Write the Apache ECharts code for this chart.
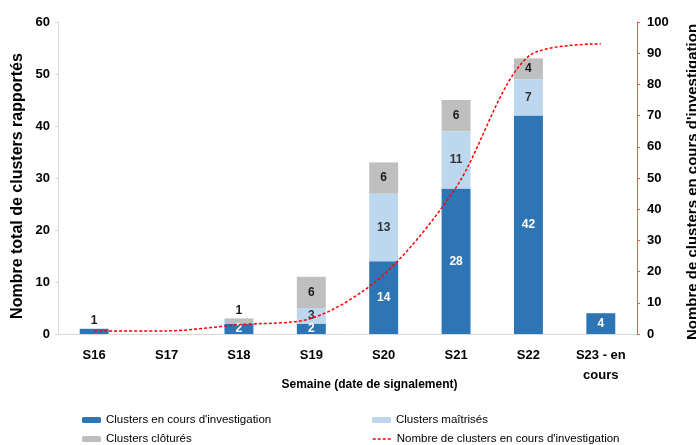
<!DOCTYPE html>
<html>
<head>
<meta charset="utf-8">
<script src="https://cdn.jsdelivr.net/npm/echarts@6/dist/echarts.min.js"></script>
<style>html,body{margin:0;padding:0;background:#fff;}#c{width:696px;height:445px;}</style>
</head>
<body>
<div id="c"></div>
<script>
const categories = ['S16', 'S17', 'S18', 'S19', 'S20', 'S21', 'S22', 'S23 - en\ncours'];
const enCours = [1, null, 2, 2, 14, 28, 42, 4];
const maitrises = [null, null, null, 3, 13, 11, 7, null];
const clotures = [null, null, 1, 6, 6, 6, 4, null];
const cumulEnCours = [1, 1, 3, 5, 19, 47, 89, 93];
const leftTicks = [0, 60, 10];
const rightTicks = [0, 100, 10];

const FONT = "'Liberation Sans Narrow', 'Arial Narrow', 'Liberation Sans', Arial, sans-serif";
const names = ["Clusters en cours d'investigation", "Clusters maîtrisés", "Clusters clôturés", "Nombre de clusters en cours d'investigation"];

const chart = echarts.init(document.getElementById('c'), null, {renderer: 'canvas'});

const blueData = enCours.map((v, i) => (i === 0 ? {value: v, label: {position: 'top', color: '#1a1a1a', distance: 2}} : v));
const grayData = clotures.map((v, i) => (i === 2 ? {value: v, label: {position: 'top', color: '#1a1a1a', distance: 2}} : v));

const labelBase = {show: true, fontFamily: FONT, fontSize: 12, fontWeight: 'bold'};
const legendText = {fontFamily: FONT, fontSize: 11.5, color: '#000'};
const legendCommon = {itemWidth: 19, itemHeight: 6, itemGap: 2, textStyle: legendText, selectedMode: false, padding: 0};

chart.setOption({
  animation: false,
  textStyle: {fontFamily: FONT},
  grid: {left: 58, right: 59, top: 22, bottom: 111, containLabel: false, outerBoundsMode: 'none'},
  legend: [
    Object.assign({data: [names[0]], left: 82, top: 414}, legendCommon),
    Object.assign({data: [names[1]], left: 372, top: 414}, legendCommon),
    Object.assign({data: [names[2]], left: 82, top: 433}, legendCommon),
    Object.assign({data: [names[3]], left: 372, top: 433,
      itemStyle: {color: 'rgba(0,0,0,0)', borderWidth: 0, opacity: 0},
      lineStyle: {color: '#FF0000', type: [3, 2], width: 1.5}}, legendCommon)
  ],
  xAxis: {
    type: 'category',
    data: categories,
    name: 'Semaine (date de signalement)',
    nameLocation: 'middle',
    nameGap: 45,
    nameMoveOverlap: false,
    nameTextStyle: {fontFamily: FONT, fontSize: 12, fontWeight: 'bold', color: '#000', padding: [0, 0, 0, 44]},
    axisLine: {lineStyle: {color: '#D9D9D9'}},
    axisTick: {show: false},
    axisLabel: {fontFamily: FONT, fontSize: 13, fontWeight: 'bold', color: '#000', margin: 11, lineHeight: 20}
  },
  yAxis: [
    {
      type: 'value', min: leftTicks[0], max: leftTicks[1], interval: leftTicks[2],
      name: 'Nombre total de clusters rapportés',
      nameLocation: 'middle', nameGap: 32, nameMoveOverlap: false,
      nameTextStyle: {fontFamily: FONT, fontSize: 16, fontWeight: 'bold', color: '#000', padding: [0, 16, 0, 0]},
      axisLine: {show: true, lineStyle: {color: '#D9D9D9'}},
      axisTick: {show: true, length: 3, lineStyle: {color: '#D9D9D9'}},
      splitLine: {show: false},
      axisLabel: {fontFamily: FONT, fontSize: 13, fontWeight: 'bold', color: '#000', margin: 8}
    },
    {
      type: 'value', min: rightTicks[0], max: rightTicks[1], interval: rightTicks[2],
      name: "Nombre de clusters en cours d'investigation",
      nameLocation: 'middle', nameGap: 48, nameRotate: 90, nameMoveOverlap: false,
      nameTextStyle: {fontFamily: FONT, fontSize: 15, fontWeight: 'bold', color: '#000', padding: [0, 8, 0, 0]},
      axisLine: {show: true, lineStyle: {color: '#FF5050'}},
      axisTick: {show: true, length: 3, lineStyle: {color: '#FF5050'}},
      splitLine: {show: false},
      axisLabel: {fontFamily: FONT, fontSize: 13, fontWeight: 'bold', color: '#000', margin: 10}
    }
  ],
  series: [
    {
      name: names[0], type: 'bar', stack: 'a', barWidth: '40%', data: blueData,
      itemStyle: {color: '#2E75B6'},
      label: Object.assign({}, labelBase, {position: 'inside', color: '#fff'})
    },
    {
      name: names[1], type: 'bar', stack: 'a', data: maitrises,
      itemStyle: {color: '#BDD7EE'},
      label: Object.assign({}, labelBase, {position: 'inside', color: '#333'})
    },
    {
      name: names[2], type: 'bar', stack: 'a', data: grayData,
      itemStyle: {color: '#BFBFBF'},
      label: Object.assign({}, labelBase, {position: 'inside', color: '#1a1a1a'})
    },
    {
      name: names[3], type: 'line', yAxisIndex: 1, data: cumulEnCours,
      smooth: 0.3, symbol: 'none', z: 5,
      lineStyle: {color: '#FF0000', width: 1.5, type: [3, 2]},
      itemStyle: {color: '#FF0000'}
    }
  ]
});
</script>
</body>
</html>
